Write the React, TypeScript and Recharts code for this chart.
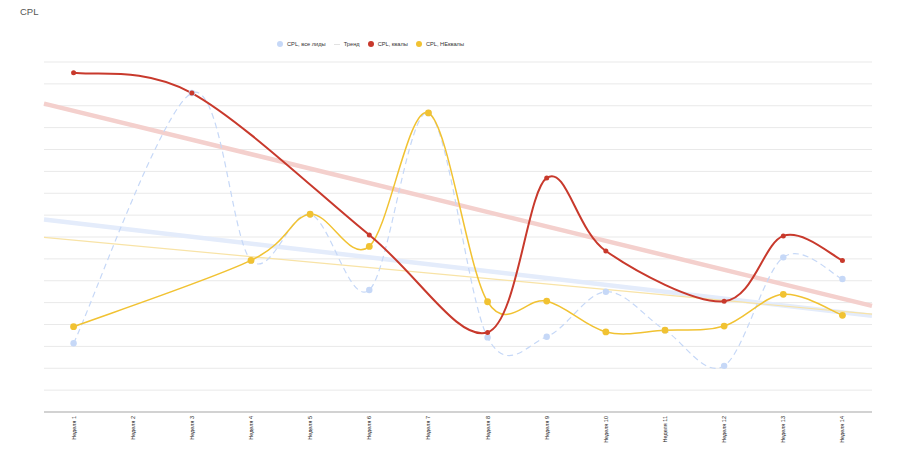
import React from "react";
import { LineChart, Line, XAxis, YAxis, CartesianGrid } from "recharts";

const weeks = [1, 2, 3, 4, 5, 6, 7, 8, 9, 10, 11, 12, 13, 14];
const cplAll = [3.14, null, 14.58, 6.93, 9.04, 5.58, 13.67, 3.41, 3.44, 5.5, 3.74, 2.11, 7.07, 6.08];
const cplQual = [15.51, null, 14.58, null, null, 8.09, null, 3.64, 10.7, 7.36, null, 5.06, 8.05, 6.93];
const cplNonQual = [3.9, null, null, 6.93, 9.04, 7.57, 13.67, 5.04, 5.07, 3.66, 3.74, 3.93, 5.38, 4.42];

// trend lines span the whole axis: values at both edges
const trendX = [0.5, 14.5];
const trendAll = [8.8, 4.4];
const trendQual = [14.1, 4.85];
const trendNonQual = [7.98, 4.47];

const yTicks = [0, 1, 2, 3, 4, 5, 6, 7, 8, 9, 10, 11, 12, 13, 14, 15, 16];

const BLUE = "#c6d8f7";
const RED = "#c8392c";
const GOLD = "#f1c232";

const legendItems = [
  { name: "CPL, все лиды", color: BLUE, kind: "dot" },
  { name: "Тренд", color: "#e2e2e2", kind: "line" },
  { name: "CPL, квалы", color: RED, kind: "dot" },
  { name: "CPL, НЕквалы", color: GOLD, kind: "dot" },
];

const data = [
  { x: trendX[0], trendAll: trendAll[0], trendQual: trendQual[0], trendNonQual: trendNonQual[0] },
  ...weeks.map((w, i) => ({
    x: w,
    all: cplAll[i],
    qual: cplQual[i],
    nonQual: cplNonQual[i],
  })),
  { x: trendX[1], trendAll: trendAll[1], trendQual: trendQual[1], trendNonQual: trendNonQual[1] },
];

// smooth curve through the points (Catmull-Rom as cubic bezier)
function smoothCurve(context: any) {
  let pts: number[][] = [];
  return {
    areaStart() {},
    areaEnd() {},
    lineStart() {
      pts = [];
    },
    point(x: number, y: number) {
      pts.push([+x, +y]);
    },
    lineEnd() {
      const n = pts.length;
      if (!n) return;
      context.moveTo(pts[0][0], pts[0][1]);
      for (let i = 0; i < n - 1; i++) {
        const p0 = pts[Math.max(i - 1, 0)];
        const p1 = pts[i];
        const p2 = pts[i + 1];
        const p3 = pts[Math.min(i + 2, n - 1)];
        context.bezierCurveTo(
          p1[0] + (p2[0] - p0[0]) / 6,
          p1[1] + (p2[1] - p0[1]) / 6,
          p2[0] - (p3[0] - p1[0]) / 6,
          p2[1] - (p3[1] - p1[1]) / 6,
          p2[0],
          p2[1]
        );
      }
    },
  };
}

const FONT = "Arial, 'Liberation Sans', sans-serif";

function WeekTick({ x, y, payload }: any) {
  const ty = y + 2;
  return (
    <text
      x={x}
      y={ty}
      transform={`rotate(-90 ${x} ${ty})`}
      textAnchor="end"
      dominantBaseline="central"
      fontSize={5.5}
      fontFamily={FONT}
      fill="#222"
    >
      {`Неделя ${payload.value}`}
    </text>
  );
}

function EmptyTick() {
  return <g />;
}

export default function App() {
  return (
    <div style={{ position: "absolute", left: 0, top: 0, width: 900, height: 456, background: "#fff", fontFamily: FONT }}>
      <div style={{ position: "absolute", left: 20, top: 7, fontSize: 9.5, lineHeight: "10px", color: "#555" }}>CPL</div>
      <div style={{ position: "absolute", left: 277, top: 40, display: "flex", alignItems: "center", fontSize: 5.7, lineHeight: "8px", color: "#333" }}>
        {legendItems.map((it) => (
          <div key={it.name} style={{ display: "flex", alignItems: "center", marginRight: 8 }}>
            {it.kind === "dot" ? (
              <span style={{ width: 6, height: 6, borderRadius: 3, background: it.color, marginRight: 4, display: "inline-block" }} />
            ) : (
              <span style={{ width: 6, height: 1, background: it.color, marginRight: 4, display: "inline-block" }} />
            )}
            <span>{it.name}</span>
          </div>
        ))}
      </div>
      <LineChart width={900} height={456} data={data} margin={{ top: 62, right: 28, left: 44, bottom: 0 }}>
        <CartesianGrid horizontal vertical={false} stroke="#e9e9e9" />
        <XAxis
          dataKey="x"
          type="number"
          domain={[0.5, 14.5]}
          ticks={weeks}
          interval={0}
          height={44}
          tickSize={0}
          tickLine={false}
          axisLine={{ stroke: "#b0b0b0" }}
          tick={<WeekTick />}
        />
        <YAxis
          type="number"
          domain={[0, 16]}
          ticks={yTicks}
          interval={0}
          width={0}
          tick={<EmptyTick />}
          tickLine={false}
          axisLine={{ stroke: "#a8a8a8" }}
        />
        <Line dataKey="trendAll" type="linear" stroke="#e4ecfb" strokeWidth={4.5} dot={false} activeDot={false} connectNulls isAnimationActive={false} />
        <Line dataKey="trendNonQual" type="linear" stroke="#f8e3a6" strokeWidth={1.2} dot={false} activeDot={false} connectNulls isAnimationActive={false} />
        <Line dataKey="trendQual" type="linear" stroke="#f4d0cd" strokeWidth={4.5} dot={false} activeDot={false} connectNulls isAnimationActive={false} />
        <Line
          dataKey="all"
          type={smoothCurve as any}
          stroke={BLUE}
          strokeWidth={1.2}
          strokeDasharray="6 4"
          dot={{ r: 3.2, fill: BLUE, stroke: BLUE, strokeWidth: 0 }}
          activeDot={false}
          connectNulls
          isAnimationActive={false}
        />
        <Line
          dataKey="nonQual"
          type={smoothCurve as any}
          stroke={GOLD}
          strokeWidth={1.5}
          dot={{ r: 3.4, fill: GOLD, stroke: GOLD, strokeWidth: 0 }}
          activeDot={false}
          connectNulls
          isAnimationActive={false}
        />
        <Line
          dataKey="qual"
          type={smoothCurve as any}
          stroke={RED}
          strokeWidth={2}
          dot={{ r: 2.5, fill: RED, stroke: RED, strokeWidth: 0 }}
          activeDot={false}
          connectNulls
          isAnimationActive={false}
        />
      </LineChart>
    </div>
  );
}
